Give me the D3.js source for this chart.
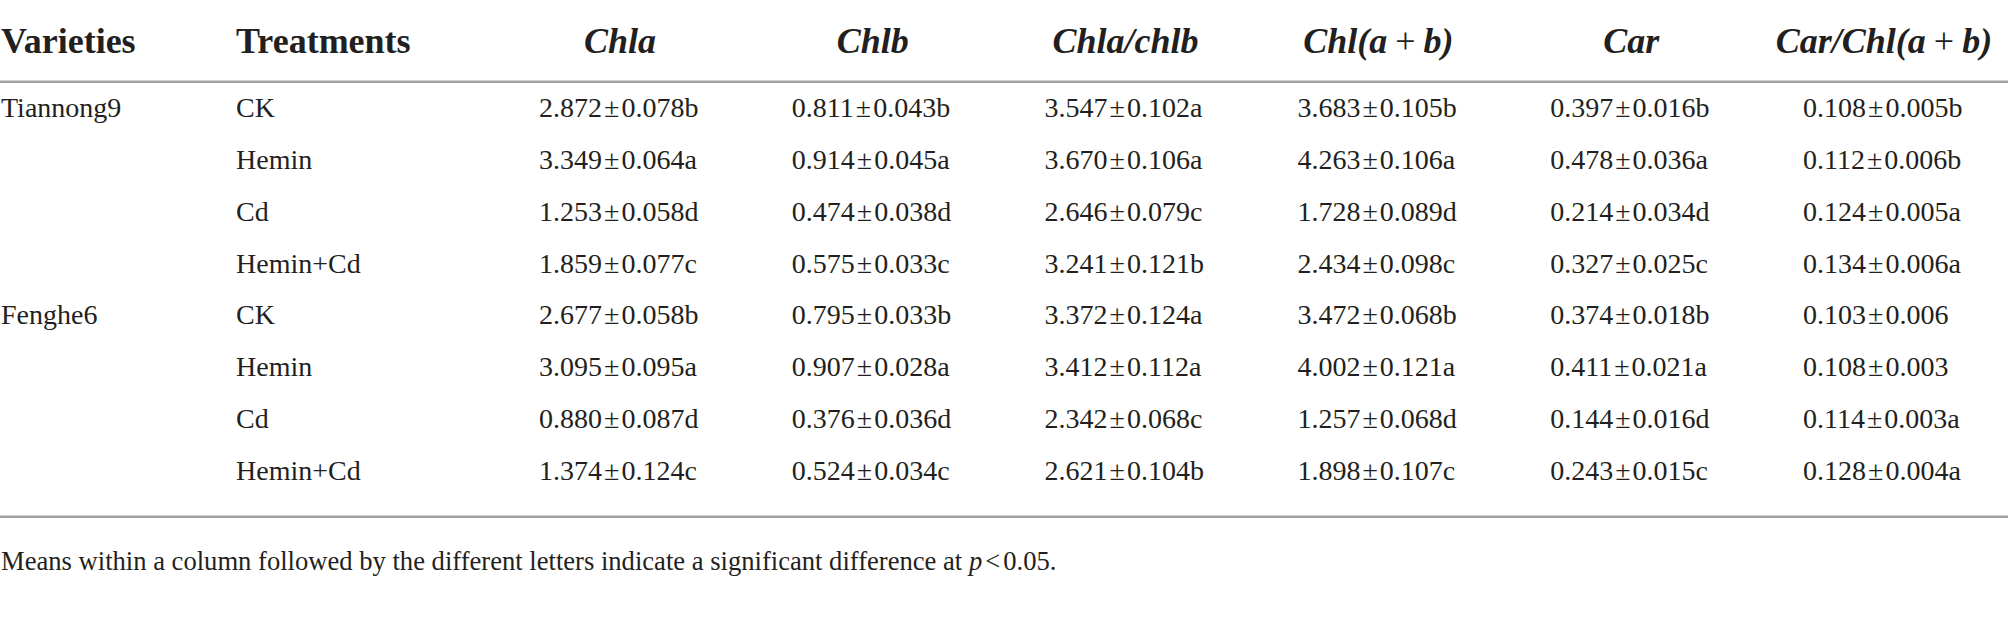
<!DOCTYPE html>
<html>
<head>
<meta charset="utf-8">
<script src="https://cdn.jsdelivr.net/npm/d3@7/dist/d3.min.js"></script>
<style>
  html, body { margin: 0; padding: 0; background: #fff; }
  svg { display: block; }
  text { font-family: "Liberation Serif", "Times New Roman", serif; fill: #231f20; }
</style>
</head>
<body>
<svg id="chart" width="2008" height="619"></svg>
<script>
// ---- data ----
const varieties = ["Tiannong9", "Fenghe6"];
const treatments = ["CK", "Hemin", "Cd", "Hemin+Cd"];
const rowHeaders = ["Varieties", "Treatments"];
const measures = ["Chla", "Chlb", "Chla/chlb", "Chl(a + b)", "Car", "Car/Chl(a + b)"];

const chlaMean = [2.872, 3.349, 1.253, 1.859, 2.677, 3.095, 0.880, 1.374];
const chlaSD   = [0.078, 0.064, 0.058, 0.077, 0.058, 0.095, 0.087, 0.124];
const chlaSig  = ["b", "a", "d", "c", "b", "a", "d", "c"];

const chlbMean = [0.811, 0.914, 0.474, 0.575, 0.795, 0.907, 0.376, 0.524];
const chlbSD   = [0.043, 0.045, 0.038, 0.033, 0.033, 0.028, 0.036, 0.034];
const chlbSig  = ["b", "a", "d", "c", "b", "a", "d", "c"];

const ratioMean = [3.547, 3.670, 2.646, 3.241, 3.372, 3.412, 2.342, 2.621];
const ratioSD   = [0.102, 0.106, 0.079, 0.121, 0.124, 0.112, 0.068, 0.104];
const ratioSig  = ["a", "a", "c", "b", "a", "a", "c", "b"];

const chlTotMean = [3.683, 4.263, 1.728, 2.434, 3.472, 4.002, 1.257, 1.898];
const chlTotSD   = [0.105, 0.106, 0.089, 0.098, 0.068, 0.121, 0.068, 0.107];
const chlTotSig  = ["b", "a", "d", "c", "b", "a", "d", "c"];

const carMean = [0.397, 0.478, 0.214, 0.327, 0.374, 0.411, 0.144, 0.243];
const carSD   = [0.016, 0.036, 0.034, 0.025, 0.018, 0.021, 0.016, 0.015];
const carSig  = ["b", "a", "d", "c", "b", "a", "d", "c"];

const carChlMean = [0.108, 0.112, 0.124, 0.134, 0.103, 0.108, 0.114, 0.128];
const carChlSD   = [0.005, 0.006, 0.005, 0.006, 0.006, 0.003, 0.003, 0.004];
const carChlSig  = ["b", "b", "a", "a", "", "", "a", "a"];

const footnote = "Means within a column followed by the different letters indicate a significant difference at ";

// ---- build table ----
const columns = [
  [chlaMean, chlaSD, chlaSig],
  [chlbMean, chlbSD, chlbSig],
  [ratioMean, ratioSD, ratioSig],
  [chlTotMean, chlTotSD, chlTotSig],
  [carMean, carSD, carSig],
  [carChlMean, carChlSD, carChlSig]
];
const rows = [];
varieties.forEach((v, vi) => treatments.forEach((t, ti) => rows.push({v: ti === 0 ? v : "", t, i: vi * treatments.length + ti})));

const W = 2008, H = 619;
const svg = d3.select("#chart");
svg.append("rect").attr("width", W).attr("height", H).attr("fill", "#fff");

const fmt = d3.format(".3f");
const y = d3.scaleLinear().domain([0, rows.length - 1]).range([117, 480]);
const x = d3.scaleLinear().domain([0, measures.length - 1]).range([539, 1803]);
const labelX = d3.scaleOrdinal().domain(rowHeaders).range([1, 236]);

const headerY = 53;
const bodySize = 28, headSize = 36;

// header: row headers
svg.selectAll("text.rh").data(rowHeaders).join("text")
  .attr("class", "rh")
  .attr("x", d => labelX(d)).attr("y", headerY)
  .attr("font-size", headSize).attr("font-weight", "bold")
  .text(d => d);

// header: measures (bold italic, "+" upright)
const cellW = 162;
const heads = svg.selectAll("text.mh").data(measures).join("text")
  .attr("class", "mh")
  .attr("y", headerY)
  .attr("font-size", headSize).attr("font-weight", "bold").attr("font-style", "italic")
  .attr("text-anchor", "middle");
heads.each(function(d) {
  const t = d3.select(this);
  const parts = d.split(" + ");
  parts.forEach((p, k) => {
    if (k > 0) {
      t.append("tspan").attr("font-style", "normal").attr("font-weight", "normal").attr("dx", 8).text("+");
      t.append("tspan").attr("dx", 8).text(p);
    } else {
      t.append("tspan").text(p);
    }
  });
});
heads.attr("x", function(d, i) {
  const bb = this.getBBox();
  return Math.min(x(i) + cellW / 2, W - 4 - bb.width / 2);
});

// lines
const lineY = [81.7, 516.7];
svg.selectAll("line.rule").data(lineY).join("line")
  .attr("class", "rule")
  .attr("x1", 0).attr("x2", W)
  .attr("y1", d => d).attr("y2", d => d)
  .attr("stroke", "#a3a3a3").attr("stroke-width", 2.4);

// body: labels
svg.selectAll("text.var").data(rows).join("text")
  .attr("class", "var")
  .attr("x", labelX("Varieties")).attr("y", d => y(d.i))
  .attr("font-size", bodySize).text(d => d.v);
svg.selectAll("text.trt").data(rows).join("text")
  .attr("class", "trt")
  .attr("x", labelX("Treatments")).attr("y", d => y(d.i))
  .attr("font-size", bodySize).text(d => d.t);

// body: cells
columns.forEach((col, ci) => {
  const [m, s, g] = col;
  const cells = svg.selectAll("text.c" + ci).data(m).join("text")
    .attr("class", "c" + ci)
    .attr("x", x(ci)).attr("y", (d, i) => y(i))
    .attr("font-size", bodySize);
  cells.append("tspan").text(d => fmt(d));
  cells.append("tspan").attr("dx", 2).text("±");
  cells.append("tspan").attr("dx", 2).text((d, i) => fmt(s[i]) + g[i]);
});

// footnote
const fn = svg.append("text").attr("x", 1).attr("y", 570).attr("font-size", 26.6);
fn.append("tspan").text(footnote);
fn.append("tspan").attr("font-style", "italic").text("p");
fn.append("tspan").attr("dx", 3).text("<");
fn.append("tspan").attr("dx", 3).text("0.05.");
</script>
</body>
</html>
